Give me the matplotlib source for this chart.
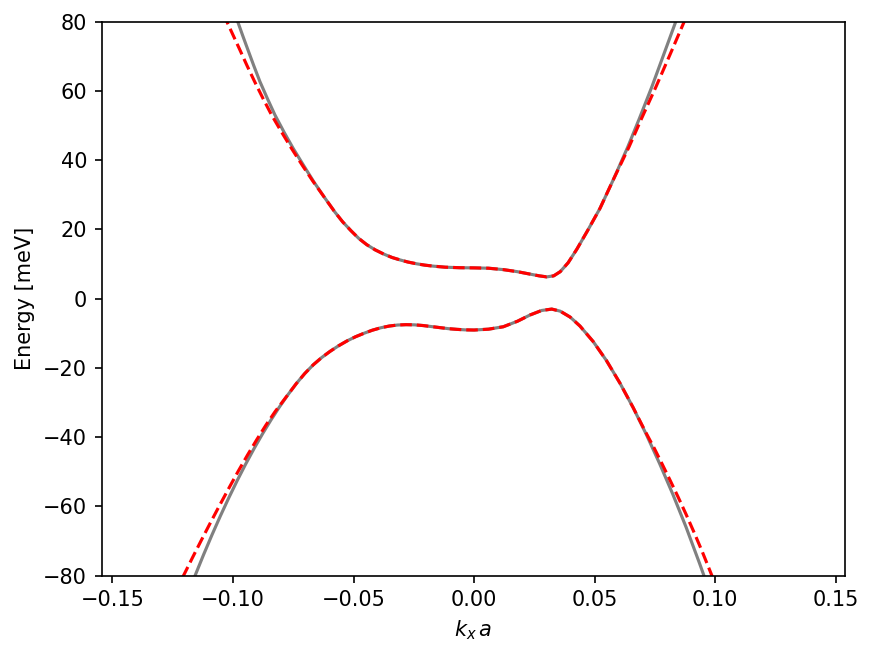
import matplotlib
matplotlib.use("Agg")
import matplotlib.pyplot as plt

# ---------------- data ----------------
# Upper band, full calculation (grey solid)
k_up_gray = [-0.1040, -0.0980, -0.0960, -0.0940, -0.0914, -0.0888, -0.0857, -0.0826,
             -0.0788, -0.0750, -0.0707, -0.0665, -0.0621, -0.0578, -0.0545, -0.0510,
             -0.0478, -0.0445, -0.0410, -0.0375, -0.0340, -0.0307, -0.0275, -0.0240,
             -0.0205, -0.0169, -0.0120, -0.0060, 0.0000, 0.0060, 0.0121, 0.0180,
             0.0232, 0.0270, 0.0301, 0.0330, 0.0357, 0.0390, 0.0426, 0.0470,
             0.0522, 0.0578, 0.0637, 0.0685, 0.0737, 0.0785, 0.0836, 0.0890]
E_up_gray = [92.0, 80.0, 76.1, 72.3, 67.4, 62.7, 57.8, 53.1,
             48.1, 43.4, 38.5, 33.8, 29.3, 25.1, 22.2, 19.6,
             17.4, 15.6, 14.1, 12.9, 11.9, 11.2, 10.6, 10.1,
             9.7, 9.4, 9.1, 8.95, 8.9, 8.8, 8.4, 7.8,
             7.1, 6.6, 6.3, 6.6, 7.8, 10.4, 14.3, 19.6,
             26.1, 34.5, 43.8, 52.0, 61.2, 70.3, 80.0, 91.0]

# Upper band, effective model (red dashed)
k_up_red = [-0.1085, -0.1025, -0.0974, -0.0942, -0.0910, -0.0875, -0.0840, -0.0798,
            -0.0757, -0.0712, -0.0667, -0.0621, -0.0578, -0.0545, -0.0510,
            -0.0478, -0.0445, -0.0410, -0.0375, -0.0340, -0.0307, -0.0275, -0.0240,
            -0.0205, -0.0169, -0.0120, -0.0060, 0.0000, 0.0060, 0.0121, 0.0180,
            0.0232, 0.0270, 0.0301, 0.0330, 0.0357, 0.0390, 0.0426, 0.0470,
            0.0522, 0.0578, 0.0642, 0.0694, 0.0754, 0.0811, 0.0871, 0.0935]
E_up_red = [88.5, 80.0, 72.3, 67.4, 62.7, 57.8, 53.1, 48.1,
            43.4, 38.5, 33.8, 29.3, 25.1, 22.2, 19.6,
            17.4, 15.6, 14.1, 12.9, 11.9, 11.2, 10.6, 10.1,
            9.7, 9.4, 9.1, 8.95, 8.9, 8.8, 8.4, 7.8,
            7.1, 6.6, 6.3, 6.6, 7.8, 10.4, 14.3, 19.6,
            26.1, 34.5, 43.8, 52.0, 61.2, 70.3, 80.0, 91.0]

# Lower band, full calculation (grey solid)
k_lo_gray = [-0.1192, -0.1157, -0.1122, -0.1087, -0.1052, -0.1017, -0.0982, -0.0947,
             -0.0912, -0.0877, -0.0842, -0.0807, -0.0772, -0.0737, -0.0702, -0.0667,
             -0.0632, -0.0597, -0.0562, -0.0527, -0.0492, -0.0457, -0.0422, -0.0387,
             -0.0352, -0.0317, -0.0282, -0.0247, -0.0212, -0.0177, -0.0142, -0.0107,
             -0.0072, -0.0037, 0.0000, 0.0060, 0.0121, 0.0180, 0.0232, 0.0280,
             0.0322, 0.0357, 0.0398, 0.0439, 0.0494, 0.0549, 0.0604, 0.0659,
             0.0714, 0.0769, 0.0824, 0.0879, 0.0934, 0.0951, 0.1006]
E_lo_gray = [-86.3, -80.0, -74.0, -68.25, -62.75, -57.5, -52.5, -47.75,
             -43.25, -39.0, -35.0, -31.25, -27.75, -24.5, -21.6, -19.1,
             -17.0, -15.2, -13.6, -12.2, -11.0, -10.0, -9.1, -8.4,
             -7.9, -7.6, -7.5, -7.55, -7.75, -8.05, -8.35, -8.65,
             -8.85, -9.0, -9.05, -8.8, -8.1, -6.5, -4.7, -3.4,
             -3.0, -3.6, -5.3, -7.9, -12.4, -17.9, -24.3, -31.4,
             -39.2, -47.6, -56.5, -66.0, -76.3, -79.6, -91.0]

# Lower band, effective model (red dashed)
k_lo_red = [-0.1240, -0.1205, -0.1167, -0.1129, -0.1091, -0.1053, -0.1015, -0.0977,
            -0.0939, -0.0901, -0.0863, -0.0825, -0.0787, -0.0737, -0.0702, -0.0667,
            -0.0632, -0.0597, -0.0562, -0.0527, -0.0492, -0.0457, -0.0422, -0.0387,
            -0.0352, -0.0317, -0.0282, -0.0247, -0.0212, -0.0177, -0.0142, -0.0107,
            -0.0072, -0.0037, 0.0000, 0.0060, 0.0121, 0.0180, 0.0232, 0.0280,
            0.0322, 0.0357, 0.0398, 0.0439, 0.0494, 0.0549, 0.0604, 0.0659,
            0.0714, 0.0747, 0.0780, 0.0813, 0.0846, 0.0879, 0.0912, 0.0945,
            0.0978, 0.0990, 0.1040]
E_lo_red = [-84.7, -80.0, -74.7, -69.5, -64.4, -59.4, -54.5, -49.7,
            -45.1, -40.7, -36.5, -32.6, -29.1, -24.5, -21.6, -19.1,
            -17.0, -15.2, -13.6, -12.2, -11.0, -10.0, -9.1, -8.4,
            -7.9, -7.6, -7.5, -7.55, -7.75, -8.05, -8.35, -8.65,
            -8.85, -9.0, -9.05, -8.8, -8.1, -6.5, -4.7, -3.4,
            -3.0, -3.6, -5.3, -7.9, -12.4, -17.9, -24.3, -31.4,
            -38.9, -43.2, -47.8, -52.5, -57.3, -62.3, -67.5, -72.9,
            -78.6, -80.7, -90.0]

x_ticks = [-0.15, -0.10, -0.05, 0.00, 0.05, 0.10, 0.15]
y_ticks = [-80, -60, -40, -20, 0, 20, 40, 60, 80]

# ---------------- figure ----------------
W, H, DPI = 874, 658, 150
fig = plt.figure(figsize=(W / DPI, H / DPI), dpi=DPI)
left, right, top, bottom = 101.7, 845.3, 21.7, 575.7
ax = fig.add_axes([left / W, 1 - bottom / H, (right - left) / W, (bottom - top) / H])

ax.plot(k_up_gray, E_up_gray, color="gray", lw=1.5)
ax.plot(k_lo_gray, E_lo_gray, color="gray", lw=1.5)
ax.plot(k_up_red, E_up_red, "r--", lw=1.5)
ax.plot(k_lo_red, E_lo_red, "r--", lw=1.5)

ax.set_xlim(-0.1544, 0.1539)
ax.set_ylim(-80, 80)
ax.set_xticks(x_ticks)
ax.set_yticks(y_ticks)
ax.set_xlabel(r"$k_x\,a$")
ax.set_ylabel("Energy [meV]")

fig.savefig("out.png", dpi=DPI)
